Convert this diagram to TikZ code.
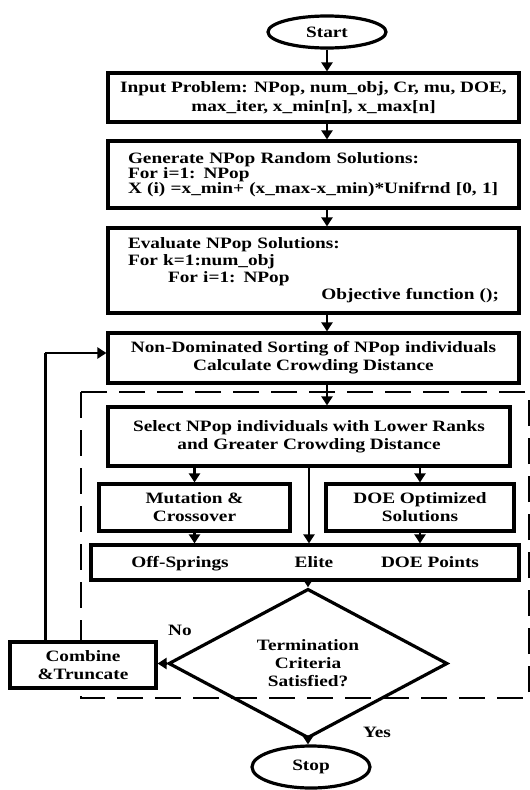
\documentclass[tikz,border=0pt]{standalone}
\usepackage{fontspec}
\setmainfont{Liberation Serif}[FakeStretch=1.22]
\usepackage{tikz}
\usetikzlibrary{positioning, shapes.geometric, arrows.meta}
\tikzstyle{flowChart} = [x = 1pt, y = -1pt, every node/.style={font=\fontsize{15.8pt}{18pt}\selectfont\bfseries}]
\tikzstyle{boxStyle} = [draw=black, fill=white, line width=3.2pt, inner sep=0pt, align=center]
\tikzstyle{terminalStyle} = [boxStyle, ellipse]
\tikzstyle{decisionStyle} = [draw=black, line width=3.2pt, diamond, inner sep=0pt, align=center]
\tikzstyle{codeText} = [text width=371pt, inner xsep=20pt, align=left]
\tikzstyle{poolText} = [anchor=base]
\tikzstyle{arrowStyle} = [line width=2.8pt, -{Triangle[length=9pt, width=11pt]}]
\tikzstyle{loopLine} = [line width=3pt]
\tikzstyle{regionStyle} = [line width=2.8pt, dash pattern=on 26pt off 12pt]
\newcommand{\processBox}[6]{\node [boxStyle, minimum width=#3, minimum height=#4, #5] (#1) at (#2) {#6};}

\begin{document}
\begin{tikzpicture}[flowChart]
  \useasboundingbox (0,0) rectangle (530,790);
  \draw [regionStyle] (81,392) rectangle (529,698);

  \node [terminalStyle, minimum width=118pt, minimum height=32pt] (start) at (327,32) {Start};
  \processBox{input}{313.5,97.5}{411pt}{49pt}{font=\fontsize{15.8pt}{19pt}\selectfont\bfseries}{Input Problem: NPop, num\_obj, Cr, mu, DOE,\\ max\_iter, x\_min[n], x\_max[n]}
  \processBox{generate}{313.5,174.5}{411pt}{67pt}{codeText, font=\fontsize{15.8pt}{15pt}\selectfont\bfseries}{Generate NPop Random Solutions:\\ For i=1: NPop\\ X (i) =x\_min+ (x\_max-x\_min)*Unifrnd [0, 1]}
  \processBox{evaluate}{313.5,270.5}{411pt}{85pt}{codeText, font=\fontsize{15.8pt}{17pt}\selectfont\bfseries}{Evaluate NPop Solutions:\\ For k=1:num\_obj\\ \hspace*{40pt}For i=1: NPop\\ \hspace*{\fill}Objective function ();}
  \processBox{nds}{313.5,358}{411pt}{50pt}{}{Non-Dominated Sorting of NPop individuals\\ Calculate Crowding Distance}
  \processBox{select}{309,436.5}{402pt}{59pt}{}{Select NPop individuals with Lower Ranks\\ and Greater Crowding Distance}
  \processBox{mutation}{194.5,507.5}{191pt}{47pt}{}{Mutation \&\\ Crossover}
  \processBox{doeSolutions}{420,507.5}{188pt}{47pt}{}{DOE Optimized\\ Solutions}
  \processBox{pool}{305,562.5}{428pt}{35pt}{}{}
  \node [poolText] (offSprings) at (180,567.5) {Off-Springs};
  \node [poolText] (elite) at (314,567.5) {Elite};
  \node [poolText] (doePoints) at (430,567.5) {DOE Points};
  \node [decisionStyle, minimum width=279pt, minimum height=131pt] (decision) at (308,663.5) {Termination\\ Criteria\\ Satisfied?};
  \processBox{combine}{83,665}{146pt}{46pt}{}{Combine\\ \&Truncate}
  \node (noLabel) at (180,630) {No};
  \node (yesLabel) at (377,732) {Yes};
  \node [terminalStyle, minimum width=118pt, minimum height=42pt] (stop) at (311,767) {Stop};

  \draw [arrowStyle] (start.south) -- (start.south |- input.north);
  \draw [arrowStyle] (input.south -| start) -- (generate.north -| start);
  \draw [arrowStyle] (generate.south -| start) -- (evaluate.north -| start);
  \draw [arrowStyle] (evaluate.south -| start) -- (nds.north -| start);
  \draw [arrowStyle] (nds.south -| start) -- (select.north -| start);
  \draw [arrowStyle] (select.south -| mutation.north) -- (mutation.north);
  \draw [arrowStyle] (select.south -| doeSolutions.north) -- (doeSolutions.north);
  \draw [arrowStyle] (select.south) -- (select.south |- pool.north);
  \draw [arrowStyle] (mutation.south) -- (mutation.south |- pool.north);
  \draw [arrowStyle] (doeSolutions.south) -- (doeSolutions.south |- pool.north);
  \draw [arrowStyle] (pool.south -| decision) -- (decision.north);
  \draw [arrowStyle] (decision.west) -- (decision.west -| combine.east);
  \draw [arrowStyle] (decision.south) -- (decision.south |- stop.north);
  \coordinate (loopCorner) at (45,353);
  \draw [loopLine] (combine.north -| loopCorner) -- (loopCorner);
  \draw [arrowStyle] (loopCorner) -- (loopCorner -| nds.west);
\end{tikzpicture}
\end{document}
